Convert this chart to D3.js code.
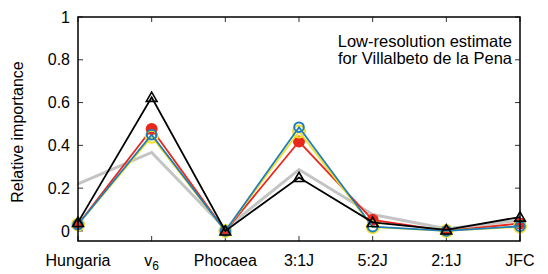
<!DOCTYPE html>
<html lang="en">
<head>
<meta charset="utf-8">
<title>Relative importance</title>
<script src="https://d3js.org/d3.v7.min.js"></script>
<style>
  body { margin: 0; background: #fff; }
  svg text { font-family: "Liberation Sans", Arial, Helvetica, sans-serif; fill: #000; }
</style>
</head>
<body>
<svg id="chart"></svg>
<script>
// categories (v6 gets a subscript when drawn)
var sources = ["Hungaria", "v6", "Phocaea", "3:1J", "5:2J", "2:1J", "JFC"];
var yTicks = [0, 0.2, 0.4, 0.6, 0.8, 1];

// series
var grayVals   = [0.22, 0.367, 0.01, 0.287, 0.077, 0.01, 0.05];
var redVals    = [0.03, 0.477, 0.0, 0.418, 0.052, 0.0, 0.035];
var yellowVals = [0.03, 0.44, 0.0, 0.465, 0.018, 0.0, 0.02];
var blueVals   = [0.03, 0.45, 0.0, 0.485, 0.02, 0.0, 0.022];
var blackVals  = [0.04, 0.625, 0.0, 0.25, 0.04, 0.005, 0.065];

var note = ["Low-resolution estimate", "for Villalbeto de la Pena"];

var width = 548, height = 274;
var margin = {top: 17, right: 28, bottom: 33, left: 78};
var w = width - margin.left - margin.right,
    h = height - margin.top - margin.bottom;

var svg = d3.select("#chart").attr("width", width).attr("height", height);
var g = svg.append("g").attr("transform", "translate(" + margin.left + "," + margin.top + ")");

var x = d3.scalePoint().domain(sources).range([0, w]).padding(0);
var y = d3.scaleLinear().domain([-0.047, 1]).range([h, 0]);

// ticks, all pointing inward, on all four sides
var tickLen = 5;
g.selectAll(".yt-left").data(yTicks).enter().append("line")
    .attr("x1", 0).attr("x2", tickLen)
    .attr("y1", function(d) { return y(d); }).attr("y2", function(d) { return y(d); })
    .attr("stroke", "#333").attr("stroke-width", 1);
g.selectAll(".yt-right").data(yTicks).enter().append("line")
    .attr("x1", w).attr("x2", w - tickLen)
    .attr("y1", function(d) { return y(d); }).attr("y2", function(d) { return y(d); })
    .attr("stroke", "#333").attr("stroke-width", 1);
g.selectAll(".xt-bot").data(sources).enter().append("line")
    .attr("x1", function(d) { return x(d); }).attr("x2", function(d) { return x(d); })
    .attr("y1", h).attr("y2", h - tickLen)
    .attr("stroke", "#333").attr("stroke-width", 1);
g.selectAll(".xt-top").data(sources).enter().append("line")
    .attr("x1", function(d) { return x(d); }).attr("x2", function(d) { return x(d); })
    .attr("y1", 0).attr("y2", tickLen)
    .attr("stroke", "#333").attr("stroke-width", 1);

// y tick labels
g.selectAll(".ylab").data(yTicks).enter().append("text")
    .attr("x", -8).attr("y", function(d) { return y(d); })
    .attr("dy", "0.35em").attr("text-anchor", "end")
    .style("font-size", "16px")
    .text(function(d) { return d === 0 || d === 1 ? d : d.toFixed(1); });

// x tick labels
var xl = g.selectAll(".xlab").data(sources).enter().append("text")
    .attr("x", function(d) { return x(d); }).attr("y", h + 25)
    .attr("text-anchor", "middle")
    .style("font-size", "16px");
xl.each(function(d) {
    var t = d3.select(this);
    if (d === "v6") {
        t.append("tspan").text("v");
        t.append("tspan").attr("dy", 4).style("font-size", "12px").text("6");
    } else {
        t.text(d);
    }
});

// y axis title
svg.append("text")
    .attr("transform", "translate(23," + (margin.top + h / 2 + 3) + ") rotate(-90)")
    .attr("text-anchor", "middle")
    .style("font-size", "16px")
    .text("Relative importance");

// annotation
svg.selectAll(".note").data(note).enter().append("text")
    .attr("x", 512).attr("y", function(d, i) { return 47 + i * 17; })
    .attr("text-anchor", "end")
    .style("font-size", "16.5px")
    .text(function(d) { return d; });

var line = d3.line()
    .x(function(d, i) { return x(sources[i]); })
    .y(function(d) { return y(d); });

function drawLine(vals, color, sw) {
    g.append("path").datum(vals)
        .attr("d", line).attr("fill", "none")
        .attr("stroke", color).attr("stroke-width", sw)
        .attr("stroke-linejoin", "miter");
}

// gray reference line, no markers
drawLine(grayVals, "#c4c4c4", 3);

// red filled circles
drawLine(redVals, "#e8271d", 1.8);
g.selectAll(".red").data(redVals).enter().append("circle")
    .attr("cx", function(d, i) { return x(sources[i]); })
    .attr("cy", function(d) { return y(d); })
    .attr("r", 6).attr("fill", "#e8271d");

// yellow open circles
drawLine(yellowVals, "#f2df2a", 1.8);
g.selectAll(".yel").data(yellowVals).enter().append("circle")
    .attr("cx", function(d, i) { return x(sources[i]); })
    .attr("cy", function(d) { return y(d); })
    .attr("r", 6).attr("fill", "none").attr("stroke", "#f2df2a").attr("stroke-width", 2);

// blue open circles
drawLine(blueVals, "#1f7db8", 1.8);
g.selectAll(".blu").data(blueVals).enter().append("circle")
    .attr("cx", function(d, i) { return x(sources[i]); })
    .attr("cy", function(d) { return y(d); })
    .attr("r", 4.8).attr("fill", "none").attr("stroke", "#1f7db8").attr("stroke-width", 2);

// black open triangles
drawLine(blackVals, "#000", 1.8);
var tri = d3.symbol().type(d3.symbolTriangle).size(50);
g.selectAll(".blk").data(blackVals).enter().append("path")
    .attr("d", tri)
    .attr("transform", function(d, i) { return "translate(" + x(sources[i]) + "," + (y(d) + 1) + ")"; })
    .attr("fill", "none").attr("stroke", "#000").attr("stroke-width", 1.6);

// frame on top
g.append("rect").attr("width", w).attr("height", h)
    .attr("fill", "none").attr("stroke", "#000").attr("stroke-width", 1.5);
</script>
</body>
</html>
